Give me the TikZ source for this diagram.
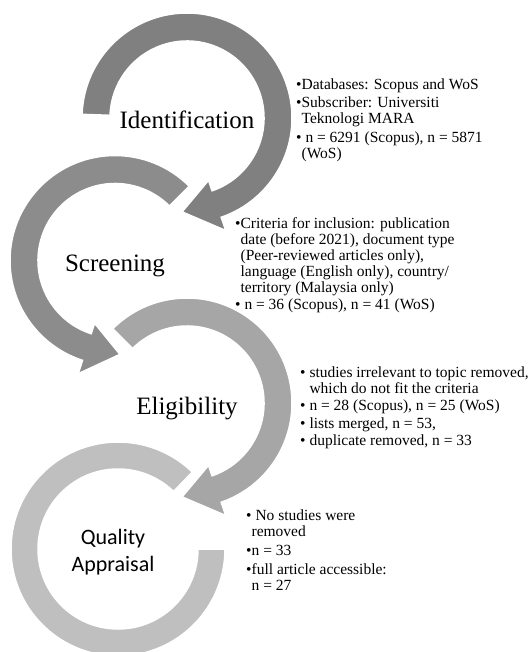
\documentclass[tikz,border=0pt]{standalone}
\usepackage{fontspec}
\setmainfont{Liberation Serif}
\newfontfamily\calibrifont{Carlito}
\usepackage{xcolor}
\usepackage{tikz}
\usetikzlibrary{positioning}

\definecolor{stageA}{gray}{0.50}
\definecolor{stageB}{gray}{0.55}
\definecolor{stageC}{gray}{0.65}
\definecolor{stageD}{gray}{0.75}

\newcommand{\hang}{\phantom{•}}

\begin{document}
\begin{tikzpicture}[
    x=1pt, y=1pt,
    band/.style={draw=white, line width=1.5pt},
    stage/.style={font=\fontsize{25}{30}\selectfont, inner sep=0pt, anchor=base},
    info/.style={font=\fontsize{15.5}{16}\selectfont, align=left, inner sep=0pt, anchor=north west}
  ]
  \useasboundingbox (0,0) rectangle (529,-652);
  % Quality Appraisal
  \begin{scope}[shift={(118,-549)}]
    \fill[stageD, band] (46:107) arc[start angle=46, end angle=360, radius=107]
      -- (0:80) arc[start angle=360, end angle=46, radius=80] -- cycle;
    \node[font=\calibrifont\fontsize{22}{27}\selectfont, align=center, inner sep=0pt] (qa) at (-5,-3.5) {Quality\\Appraisal};
  \end{scope}
  % Eligibility
  \begin{scope}[shift={(187,-403)}]
    \fill[stageC, band] (135:105) arc[start angle=135, end angle=-71, radius=105]
      -- (-71:119) -- (-93:94) -- (-71:66) -- (-71:77)
      arc[start angle=-71, end angle=135, radius=77] -- cycle;
    \node[stage] (elig) at (0,-11) {Eligibility};
  \end{scope}
  % Screening
  \begin{scope}[shift={(115,-260.5)}]
    \fill[stageB, band] (45:105) arc[start angle=45, end angle=252, radius=105]
      -- (252:119) -- (273:94) -- (252:66) -- (252:77)
      arc[start angle=252, end angle=45, radius=77] -- cycle;
    \node[stage] (scr) at (0,-11) {Screening};
  \end{scope}
  % Identification
  \begin{scope}[shift={(187,-118)}]
    \fill[stageA, band] (178:105) arc[start angle=178, end angle=-71, radius=105]
      -- (-71:119) -- (-93:94) -- (-71:66) -- (-71:77)
      arc[start angle=-71, end angle=178, radius=77] -- cycle;
    \node[stage] (ident) at (0,-11) {Identification};
  \end{scope}
  % notes
  \node[info] (identtxt) at (296,-78.4) {•Databases: Scopus and WoS\\[2.5pt]
    •Subscriber: Universiti\\
    \hang Teknologi MARA\\[2.5pt]
    •\ n = 6291 (Scopus), n = 5871\\
    \hang(WoS)};
  \node[info] (scrtxt) at (235,-217) {•Criteria for inclusion: publication\\
    \hang date (before 2021), document type\\
    \hang (Peer-reviewed articles only),\\
    \hang language (English only), country/\\
    \hang territory (Malaysia only)\\[1.5pt]
    •\ n = 36 (Scopus), n = 41 (WoS)};
  \node[info] (eligtxt) at (300,-366.4) {•\ studies irrelevant to topic removed,\\
    \hang\ which do not fit the criteria\\[1.5pt]
    •\ n = 28 (Scopus), n = 25 (WoS)\\[1.5pt]
    •\ lists merged, n = 53,\\[1.5pt]
    •\ duplicate removed, n = 33};
  \node[info] (qatxt) at (246,-509.4) {•\ No studies were\\
    \hang removed\\[3pt]
    •n = 33\\[3pt]
    •full article accessible:\\
    \hang n = 27};
\end{tikzpicture}
\end{document}
